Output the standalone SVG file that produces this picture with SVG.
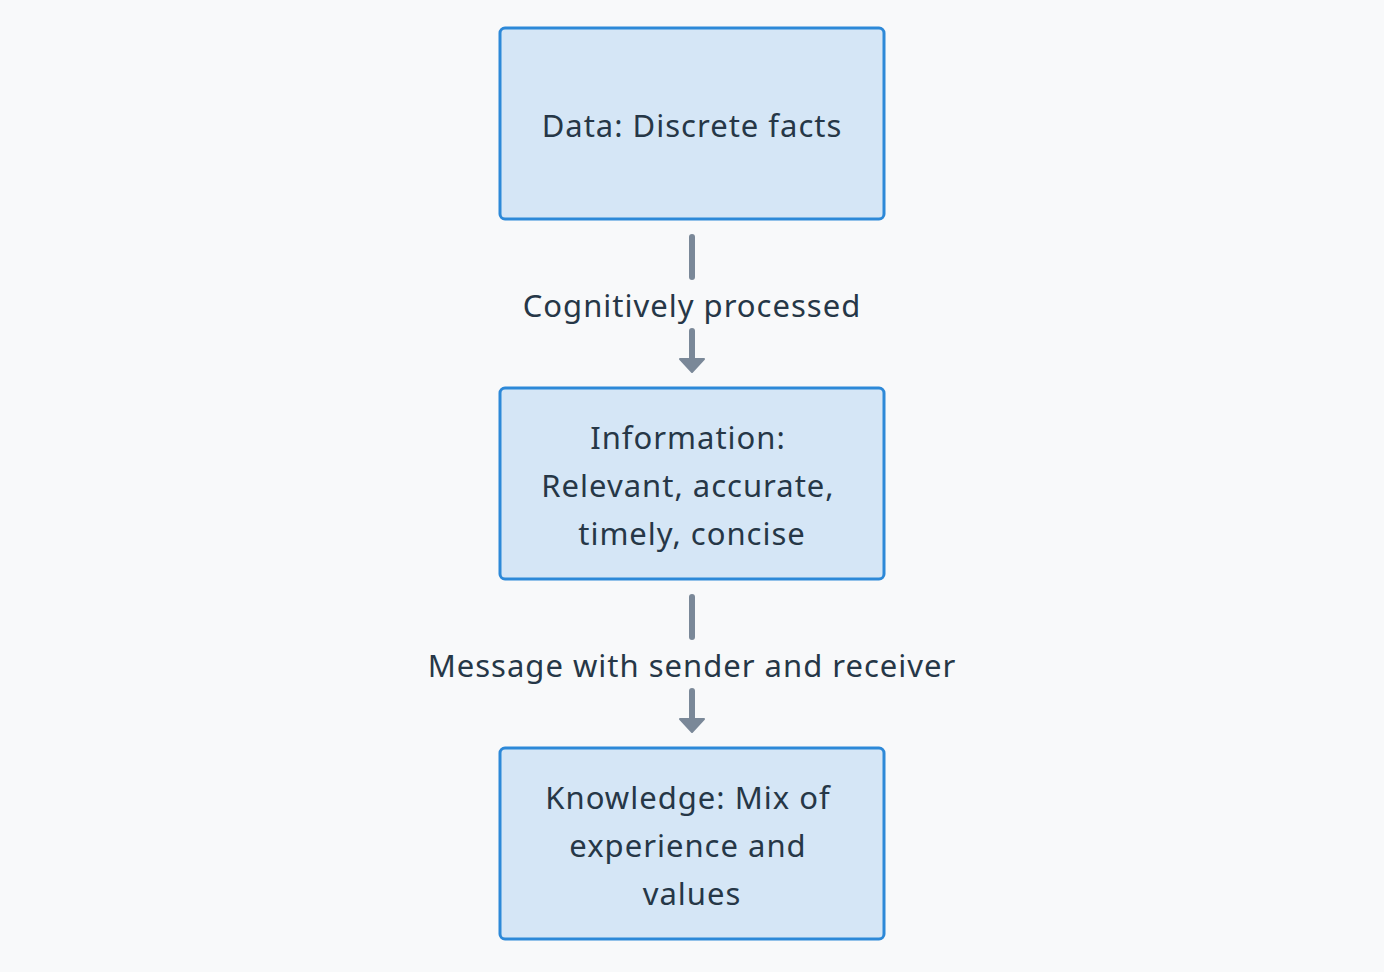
<svg xmlns="http://www.w3.org/2000/svg" width="1384" height="972" viewBox="0 0 1384 972">
<defs>
<style>
.node rect{fill:#d5e6f6;stroke:#2d89d8;stroke-width:3}
.t{font-family:"Noto Sans","DejaVu Sans",sans-serif;font-size:31px;letter-spacing:1px;fill:#263747;text-anchor:middle;dominant-baseline:central}
.edge line{stroke:#7a8898;stroke-width:6;stroke-linecap:round}
.edge path{fill:#7a8898;stroke:#7a8898;stroke-width:2;stroke-linejoin:round}
</style>
</defs>
<rect width="1384" height="972" fill="#f8f9fa"/>
<g id="connectors" class="edge">
<line x1="692" y1="237" x2="692" y2="277"/>
<line x1="692" y1="331" x2="692" y2="360"/>
<path d="M680,359 L704,359 L692,372 Z"/>
<text class="t" x="692" y="305">Cognitively processed</text>
<line x1="692" y1="597" x2="692" y2="637"/>
<line x1="692" y1="691" x2="692" y2="720"/>
<path d="M680,719 L704,719 L692,732 Z"/>
<text class="t" x="692" y="665">Message with sender and receiver</text>
</g>
<g id="data" class="node">
<rect x="500" y="28" width="384" height="191" rx="5"/>
<text class="t" x="692" y="125">Data: Discrete facts</text>
</g>
<g id="information" class="node">
<rect x="500" y="388" width="384" height="191" rx="5"/>
<text class="t" x="688" y="437">Information:</text>
<text class="t" x="688" y="485">Relevant, accurate,</text>
<text class="t" x="692" y="533">timely, concise</text>
</g>
<g id="knowledge" class="node">
<rect x="500" y="748" width="384" height="191" rx="5"/>
<text class="t" x="688" y="797">Knowledge: Mix of</text>
<text class="t" x="688" y="845">experience and</text>
<text class="t" x="692" y="893">values</text>
</g>
</svg>
